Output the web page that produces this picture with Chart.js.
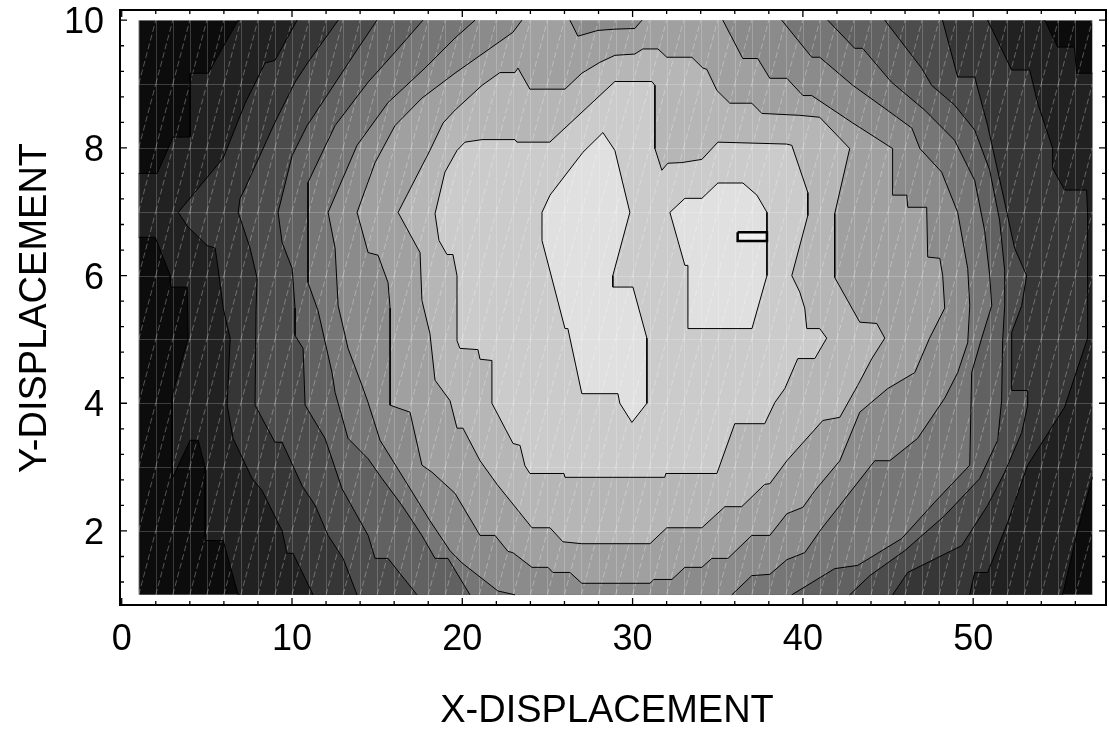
<!DOCTYPE html>
<html>
<head>
<meta charset="utf-8">
<script src="https://cdn.jsdelivr.net/npm/chart.js@4.4.1/dist/chart.umd.min.js"></script>
<style>
  html, body { margin: 0; background: #fff; }
  canvas { display: block; }
</style>
</head>
<body>
<canvas id="contour" width="1109" height="731"></canvas>
<script>
// ===== Axes =====
const xRange = [-0.1, 57.8];
const yRange = [0.84, 10.16];
const xTicks = [0, 10, 20, 30, 40, 50];
const yTicks = [2, 4, 6, 8, 10];
const dataX = [1, 57]; // sample grid extent
const dataY = [1, 10];
const xTitle = "X-DISPLACEMENT";
const yTitle = "Y-DISPLACEMENT";

// grey level of each band, darkest (outside) to lightest (centre)
const bandGray = [12, 33, 54, 76, 97, 118, 139, 160, 182, 203, 224, 240];

// ===== Contour lines (data units) =====
// open lines run edge to edge, rings are closed later
const L1_TL = [[6.84,10],[5.08,9.17],[4.02,9.17],[4.02,8.17],[3.02,8.17],[2.08,7.6],[1,7.6]];
const L1_BL = [[1,6.6],[1.97,6.6],[2.85,6.0],[2.85,5.82],[3.84,5.82],[3.9,5.02],[2.96,4.12],[2.96,2.82],
  [4.02,3.42],[4.49,3.42],[4.9,3.0],[4.9,1.85],[5.96,1.85],[6.84,1]];
const L1_TR = [[54.2,10],[54.96,9.58],[55.95,9.58],[56.07,9.17],[57,9.17]];
const L1_BR = [[57,2.84],[56.13,2.0],[55.25,1]];

const L2_L = [[10.3,10],[9,9.37],[8.42,9.33],[7.25,8.7],[5.96,7.84],[3.32,6.99],[3.9,6.76],[5.02,6.47],
  [5.49,6.43],[5.66,6.11],[5.96,5.49],[6.37,5.02],[6.19,3.97],[6.54,3.45],[7.66,2.82],[8.25,2.63],
  [9.42,2.0],[9.71,1.65],[10.06,1.65],[11.24,1]];
const L2_R = [[49.79,1],[50.09,1.35],[50.85,1.35],[52.02,2.13],[53.2,3.03],[55.37,3.94],
  [56.72,5.02],[56.72,6.99],[56.66,7.34],[55.37,7.34],[54.67,7.68],[54.67,7.99],[53.79,8.7],
  [53.32,9.22],[52.26,9.22],[50.85,10]];

const L3_L = [[12.71,10],[10.94,9.34],[10.18,9.03],[9,8.4],[7.25,7.37],[6.95,7.21],[6.84,6.99],
  [7.54,6.43],[7.95,5.96],[7.89,5.49],[7.83,3.97],[9,3.39],[9.42,3.39],[10.59,2.71],[11.36,2.4],
  [12.12,1.93],[13.0,1.57],[13.82,1]];
const L3_R = [[45.27,1],[46.16,1.35],[49.33,1.77],[50.85,2.4],[51.85,2.92],[52.85,3.54],[53.2,3.97],
  [53.2,4.2],[52.26,4.2],[52.26,5.11],[52.85,5.53],[53.14,6.0],[52.43,6.43],[51.85,7.15],
  [50.85,8.35],[50.09,9.11],[49.09,9.11],[48.2,10]];

const L4_L = [[14.99,10],[13.88,9.56],[12.94,9.18],[10.89,8.35],[10.01,7.88],[9.18,6.99],[9.42,6.52],
  [10.01,6.11],[10.18,5.49],[10.18,5.06],[10.65,4.86],[10.77,3.97],[11.94,3.45],[12.94,2.66],
  [14.47,1.93],[14.88,1.57],[15.64,1.57],[17.34,1]];
const L4_R = [[42.75,1],[43.93,1.3],[45.98,1.69],[48.33,2.24],[50.38,2.82],[51.44,3.42],[51.67,4.04],
  [51.73,4.98],[51.85,5.53],[51.85,6.08],[51.55,6.87],[50.97,7.65],[50.09,8.28],[48.91,8.67],
  [47.56,8.98],[46.97,9.25],[44.81,10]];

const L5_L = [[17.69,10],[16.05,9.5],[14.47,9.03],[12.53,8.35],[10.94,7.46],[10.94,5.89],[11.53,5.45],
  [12.35,4.48],[12.53,4.17],[13.29,3.45],[14.47,3.13],[15.29,2.82],[16.46,2.4],[17.63,1.93],
  [18.4,1.57],[19.16,1.57],[20.45,1]];
const L5_R = [[39.35,1],[41.87,1.41],[43.22,1.46],[45.8,1.88],[47.74,2.45],[49.8,3.03],[49.91,4.48],
  [50.5,5.02],[51.09,5.53],[50.97,6.0],[50.67,6.71],[50.09,7.49],[48.91,8.12],[47.16,8.59],
  [45.2,9.03],[43.51,9.56],[43.04,9.56],[41.46,10]];

const L6_L = [[20.75,10],[19.57,9.72],[17.81,9.25],[15.64,8.71],[13.82,8.04],[12.12,6.99],[12.53,6.43],
  [12.71,5.53],[13.29,4.86],[14.11,4.28],[14.47,4.01],[15.17,3.42],[16.64,2.79],[18.1,2.16],
  [19.28,1.69],[19.98,1.5],[22.09,1.06],[23.09,1]];
const L6_R = [[35.83,1],[37.0,1.3],[38.06,1.32],[39.06,1.55],[40.11,1.66],[41.11,2.04],[42.17,2.4],
  [44.22,3.1],[45.1,3.1],[46.74,3.45],[48.33,4.08],[49.09,4.48],[49.68,4.95],[49.8,5.53],
  [49.68,6.11],[49.09,6.99],[48.15,7.62],[46.87,7.99],[46.4,8.31],[44.81,8.62],[42.93,8.98],
  [40.99,9.42],[40.52,9.42],[38.76,10]];

const L7 = [[23.5,10],[22.97,9.81],[19.57,9.17],[17.63,8.78],[16.05,8.35],[14.88,7.77],[13.82,6.99],
  [14.47,6.36],[15.05,6.32],[15.64,5.89],[15.76,5.49],[15.76,3.97],[16.93,3.86],[17.63,3.03],
  [18.22,2.92],[19.57,2.59],[21.04,1.93],[21.92,1.93],[22.68,1.68],[22.97,1.66],[24.09,1.43],
  [25.03,1.43],[25.32,1.35],[26.32,1.35],[27.02,1.18],[31.02,1.18],[31.25,1.24],[32.31,1.24],
  [33.07,1.43],[34.07,1.43],[34.65,1.57],[35.6,1.57],[37.0,1.93],[38.06,1.93],[39.06,2.27],
  [40.0,2.37],[40.7,2.63],[42.17,3.1],[43.34,3.86],[44.98,4.23],[46.57,4.48],[47.44,5.02],
  [48.33,5.49],[48.21,6.0],[48.04,6.27],[47.33,6.29],[47.27,7.07],[46.16,7.07],[46.1,7.26],
  [45.27,7.26],[45.27,7.99],[42.93,8.39],[40.52,8.82],[40.0,8.82],[39.06,9.09],[38.06,9.09],
  [37.35,9.4],[36.47,9.4],[35.3,10]];
const L7_DIP = [[26.32,10],[26.79,9.75],[27.96,9.84],[28.96,9.86],[30.13,9.87],[30.55,10]];

const L8 = [[16.23,6.99],[18.1,7.96],[18.87,8.39],[19.57,8.59],[21.16,8.98],[22.21,9.18],[23.09,9.18],
  [23.27,9.25],[23.97,8.92],[26.03,8.92],[27.02,9.17],[28.08,9.34],[28.96,9.45],[30.13,9.47],
  [30.6,9.55],[31.49,9.55],[32.01,9.42],[33.48,9.42],[34.13,9.25],[34.36,9.23],[34.95,8.9],
  [35.71,8.7],[37.0,8.7],[37.59,8.54],[39.82,8.51],[40.99,8.48],[42.75,7.99],[41.87,6.97],
  [41.87,5.97],[43.34,5.27],[44.34,5.25],[44.81,5.02],[44.05,4.7],[43.22,4.28],[43.05,4.2],
  [42.17,3.78],[41.17,3.73],[39.06,3.1],[38.06,2.74],[37.76,2.73],[36.41,2.38],[35.42,2.38],
  [34.07,2.05],[32.01,2.05],[31.02,1.8],[27.02,1.8],[25.91,1.83],[25.15,2.05],[24.09,2.05],
  [22.04,2.73],[21.04,3.1],[20.04,3.61],[19.69,3.61],[19.28,4.04],[18.4,4.36],[18.1,5.09],
  [17.63,5.61],[17.52,6.36]];

const L9 = [[20.16,8.09],[21.16,8.13],[23.09,8.13],[23.21,8.09],[25.14,8.09],[28.96,9.04],[31.13,9.04],
  [31.31,8.98],[31.31,7.99],[31.72,7.65],[32.07,7.76],[32.89,7.77],[34.07,7.82],[35.01,8.09],
  [39.05,8.06],[39.35,8.04],[40.29,7.3],[40.29,6.94],[39.35,6.0],[39.82,5.74],[40.11,5.49],
  [40.23,5.17],[40.99,5.17],[41.4,5.02],[40.7,4.7],[39.7,4.7],[38.94,4.23],[38.35,4.01],
  [37.76,3.68],[36.0,3.68],[34.95,2.9],[31.95,2.9],[31.89,2.84],[26.03,2.84],[25.97,2.9],
  [23.97,2.9],[23.68,3.02],[23.39,3.34],[22.98,3.37],[21.74,4.0],[21.74,4.67],[21.04,4.69],
  [20.92,4.84],[19.86,4.86],[19.69,4.98],[19.69,6.0],[19.45,6.33],[19.1,6.33],[18.63,6.55],
  [18.4,6.97],[18.98,7.62],[19.69,7.96]];

const L10_A = [[28.26,8.24],[28.96,7.96],[29.84,6.99],[28.84,6.0],[28.84,5.82],[30.02,5.82],[30.84,5.02],
  [30.84,4.0],[29.96,3.7],[29.25,4.0],[29.14,4.15],[27.02,4.15],[26.2,5.17],[26.03,5.17],
  [24.68,6.55],[24.68,6.99],[25.15,7.26],[27.08,7.93]];
const L10_B = [[32.19,6.99],[33.07,7.21],[34.07,7.21],[35.01,7.45],[36.48,7.45],[37.3,7.26],[37.89,6.99],
  [37.89,6.0],[37.01,5.17],[33.25,5.17],[33.25,6.16],[33.07,6.16]];
const L11 = [[36.17,6.68],[37.89,6.68],[37.89,6.54],[36.17,6.54]];

// ===== Helpers =====
const rev = (pts) => [...pts].reverse();
const ring = (pts) => [...pts, pts[0]];
const toXY = (pts) => pts.map(([x, y]) => ({ x, y }));
const gray = (k) => `rgb(${bandGray[k]},${bandGray[k]},${bandGray[k]})`;
const fullRect = [[dataX[0], dataY[0]], [dataX[1], dataY[0]], [dataX[1], dataY[1]], [dataX[0], dataY[1]]];

// filled regions, painted bottom to top
const fills = [
  [fullRect, 0],
  [[...rev(L1_TL), ...L1_TR, ...L1_BR, ...rev(L1_BL)], 1],
  [[...L2_L, ...L2_R], 2],
  [[...L3_L, ...L3_R], 3],
  [[...L4_L, ...L4_R], 4],
  [[...L5_L, ...L5_R], 5],
  [[...L6_L, ...L6_R], 6],
  [L7, 7],
  [L7_DIP, 6],
  [L8, 8],
  [L9, 9],
  [L10_A, 10],
  [L10_B, 10],
  [L11, 11],
];
const lines = [
  [L1_TL, 1], [L1_BL, 1], [L1_TR, 1], [L1_BR, 1],
  [L2_L, 1], [L2_R, 1], [L3_L, 1], [L3_R, 1], [L4_L, 1], [L4_R, 1],
  [L5_L, 1], [L5_R, 1], [L6_L, 1], [L6_R, 1], [L7, 1], [L7_DIP, 1],
  [ring(L8), 1], [ring(L9), 1], [ring(L10_A), 1], [ring(L10_B), 1], [ring(L11), 2.5],
];

const datasets = [];
fills.forEach(([pts, k], i) => {
  datasets.push({
    data: toXY(pts), polyFill: gray(k), meshAfter: i === fills.length - 1,
    showLine: false, pointRadius: 0,
  });
});
lines.forEach(([pts, w]) => {
  datasets.push({
    data: toXY(pts), showLine: true, borderColor: "#000", borderWidth: w,
    pointRadius: 0, tension: 0, fill: false,
  });
});
datasets.forEach((d, i) => (d.order = -i)); // draw in array order

// ===== Plugins =====
function drawMesh(chart) {
  const { ctx, scales: { x, y } } = chart;
  const x0 = x.getPixelForValue(dataX[0]), x1 = x.getPixelForValue(dataX[1]);
  const y0 = y.getPixelForValue(dataY[0]), y1 = y.getPixelForValue(dataY[1]);
  ctx.save();
  ctx.lineWidth = 1;
  ctx.strokeStyle = "rgba(255,255,255,0.2)";
  ctx.beginPath();
  for (let gx = dataX[0]; gx <= dataX[1]; gx++) {
    const px = Math.round(x.getPixelForValue(gx)) + 0.5;
    ctx.moveTo(px, y0); ctx.lineTo(px, y1);
  }
  for (let gy = dataY[0]; gy <= dataY[1]; gy++) {
    const py = Math.round(y.getPixelForValue(gy)) + 0.5;
    ctx.moveTo(x0, py); ctx.lineTo(x1, py);
  }
  ctx.stroke();
  // cell diagonals (triangle seams)
  ctx.strokeStyle = "rgba(255,255,255,0.3)";
  ctx.setLineDash([6, 3]);
  ctx.beginPath();
  for (let gx = dataX[0]; gx < dataX[1]; gx++) {
    for (let gy = dataY[0]; gy < dataY[1]; gy++) {
      ctx.moveTo(x.getPixelForValue(gx), y.getPixelForValue(gy));
      ctx.lineTo(x.getPixelForValue(gx + 1), y.getPixelForValue(gy + 1));
    }
  }
  ctx.stroke();
  ctx.restore();
}

const polyFillPlugin = {
  id: "polyFill",
  beforeDatasetDraw(chart, args) {
    const ds = chart.data.datasets[args.index];
    if (!ds.polyFill) return;
    const pts = args.meta.data;
    const ctx = chart.ctx;
    ctx.save();
    ctx.beginPath();
    pts.forEach((p, i) => (i ? ctx.lineTo(p.x, p.y) : ctx.moveTo(p.x, p.y)));
    ctx.closePath();
    ctx.fillStyle = ds.polyFill;
    ctx.fill();
    ctx.restore();
  },
  afterDatasetDraw(chart, args) {
    if (chart.data.datasets[args.index].meshAfter) drawMesh(chart);
  },
};

const FONT = '"Liberation Sans", Arial, Helvetica, sans-serif';
const framePlugin = {
  id: "frame",
  afterDraw(chart) {
    const { ctx, chartArea: a, scales: { x, y } } = chart;
    ctx.save();
    ctx.strokeStyle = "#000";
    ctx.lineWidth = 2;
    ctx.strokeRect(a.left, a.top, a.right - a.left, a.bottom - a.top);

    ctx.lineWidth = 1.3;
    ctx.beginPath();
    for (let v = 0; v <= xRange[1]; v += 2) {
      const len = v % 10 === 0 ? 7 : 4;
      const px = x.getPixelForValue(v);
      ctx.moveTo(px, a.bottom); ctx.lineTo(px, a.bottom - len);
      ctx.moveTo(px, a.top); ctx.lineTo(px, a.top + len);
    }
    for (let i = 3; i <= 25; i++) {
      const v = i * 0.4;
      const len = i % 5 === 0 ? 7 : 4;
      const py = y.getPixelForValue(v);
      ctx.moveTo(a.left, py); ctx.lineTo(a.left + len, py);
      ctx.moveTo(a.right, py); ctx.lineTo(a.right - len, py);
    }
    ctx.stroke();

    ctx.fillStyle = "#000";
    ctx.font = `36px ${FONT}`;
    ctx.textAlign = "center";
    ctx.textBaseline = "alphabetic";
    xTicks.forEach((v) => ctx.fillText(String(v), x.getPixelForValue(v), 650));
    ctx.textAlign = "right";
    yTicks.forEach((v) => ctx.fillText(String(v), 104, y.getPixelForValue(v) + 13));

    ctx.font = `38px ${FONT}`;
    ctx.textAlign = "center";
    ctx.fillText(xTitle, 607, 722);
    ctx.translate(46, 308);
    ctx.rotate(-Math.PI / 2);
    ctx.fillText(yTitle, 0, 0);
    ctx.restore();
  },
};

// ===== Chart =====
const hiddenAxis = (range, fit) => ({
  type: "linear", min: range[0], max: range[1],
  grid: { display: false, drawTicks: false }, border: { display: false },
  ticks: { display: false }, afterFit: fit,
});

new Chart(document.getElementById("contour"), {
  type: "scatter",
  data: { datasets },
  options: {
    responsive: false,
    animation: false,
    layout: { padding: { top: 10, right: 3, left: 0, bottom: 0 } },
    plugins: { legend: { display: false }, tooltip: { enabled: false } },
    scales: {
      x: hiddenAxis(xRange, (s) => { s.height = 126; }),
      y: hiddenAxis(yRange, (s) => { s.width = 120; }),
    },
  },
  plugins: [polyFillPlugin, framePlugin],
});
</script>
</body>
</html>
